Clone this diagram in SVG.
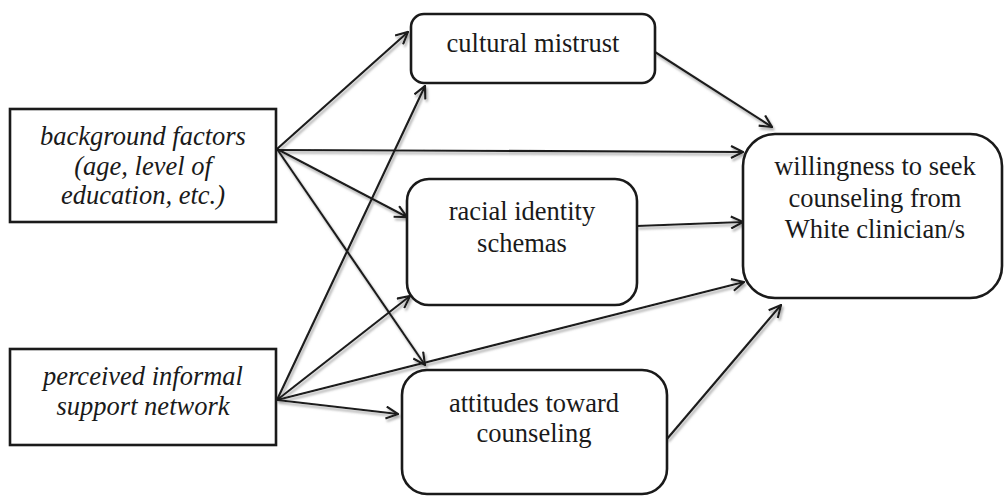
<svg xmlns="http://www.w3.org/2000/svg" width="1005" height="496" viewBox="0 0 1005 496">
  <defs>
    <marker id="arrow" viewBox="0 0 14 14" refX="13" refY="7" markerWidth="14" markerHeight="14" markerUnits="userSpaceOnUse" orient="auto">
      <path d="M1,1 L13,7 L1,13" fill="none" stroke="#1a1a1a" stroke-width="2.2" stroke-linejoin="miter"/>
    </marker>
    <filter id="shade" x="-10%" y="-10%" width="120%" height="130%">
      <feDropShadow dx="1.5" dy="2.5" stdDeviation="0.8" flood-color="#9a9a9a" flood-opacity="0.85"/>
    </filter>
  </defs>
  <style>
    .box { fill: #ffffff; stroke: #1a1a1a; stroke-width: 2.6; }
    .lbl { font-family: "Liberation Serif", "Times New Roman", serif; font-size: 26.5px; fill: #1a1a1a; text-anchor: middle; }
    .it { font-style: italic; }
    .edge { fill: none; stroke: #1a1a1a; stroke-width: 2.2; marker-end: url(#arrow); }
  </style>
  <rect width="1005" height="496" fill="#ffffff"/>

  <!-- connectors -->
  <g id="connectors" filter="url(#shade)">
    <line class="edge" x1="277" y1="149" x2="408" y2="32"/>
    <line class="edge" x1="277" y1="150" x2="743" y2="152"/>
    <line class="edge" x1="277" y1="149" x2="407" y2="217"/>
    <line class="edge" x1="277" y1="149" x2="425" y2="365"/>
    <line class="edge" x1="277" y1="400" x2="425" y2="86"/>
    <line class="edge" x1="277" y1="400" x2="410" y2="296"/>
    <line class="edge" x1="277" y1="400" x2="744" y2="282"/>
    <line class="edge" x1="277" y1="400" x2="398" y2="414"/>
    <line class="edge" x1="655" y1="52" x2="772" y2="127"/>
    <line class="edge" x1="637" y1="226" x2="743" y2="222"/>
    <line class="edge" x1="667" y1="439" x2="781" y2="305"/>
  </g>

  <!-- nodes -->
  <g id="background">
    <rect class="box" x="10" y="109" width="266" height="113"/>
    <text class="lbl it" x="143" y="145">background factors</text>
    <text class="lbl it" x="143" y="175">(age, level of</text>
    <text class="lbl it" x="143" y="204">education, etc.)</text>
  </g>

  <g id="perceived">
    <rect class="box" x="10" y="349" width="266" height="96"/>
    <text class="lbl it" x="143" y="385">perceived informal</text>
    <text class="lbl it" x="143" y="415">support network</text>
  </g>

  <g id="mistrust">
    <rect class="box" x="411" y="14" width="244" height="69" rx="13"/>
    <text class="lbl" x="533" y="52">cultural mistrust</text>
  </g>

  <g id="identity">
    <rect class="box" x="407" y="179" width="230" height="126" rx="22"/>
    <text class="lbl" x="522" y="220">racial identity</text>
    <text class="lbl" x="522" y="252">schemas</text>
  </g>

  <g id="attitudes">
    <rect class="box" x="402" y="370" width="265" height="124" rx="25"/>
    <text class="lbl" x="534" y="412">attitudes toward</text>
    <text class="lbl" x="534" y="442">counseling</text>
  </g>

  <g id="willingness">
    <rect class="box" x="743" y="134" width="259" height="164" rx="32"/>
    <text class="lbl" x="875" y="175">willingness to seek</text>
    <text class="lbl" x="875" y="207">counseling from</text>
    <text class="lbl" x="875" y="238">White clinician/s</text>
  </g>
</svg>
